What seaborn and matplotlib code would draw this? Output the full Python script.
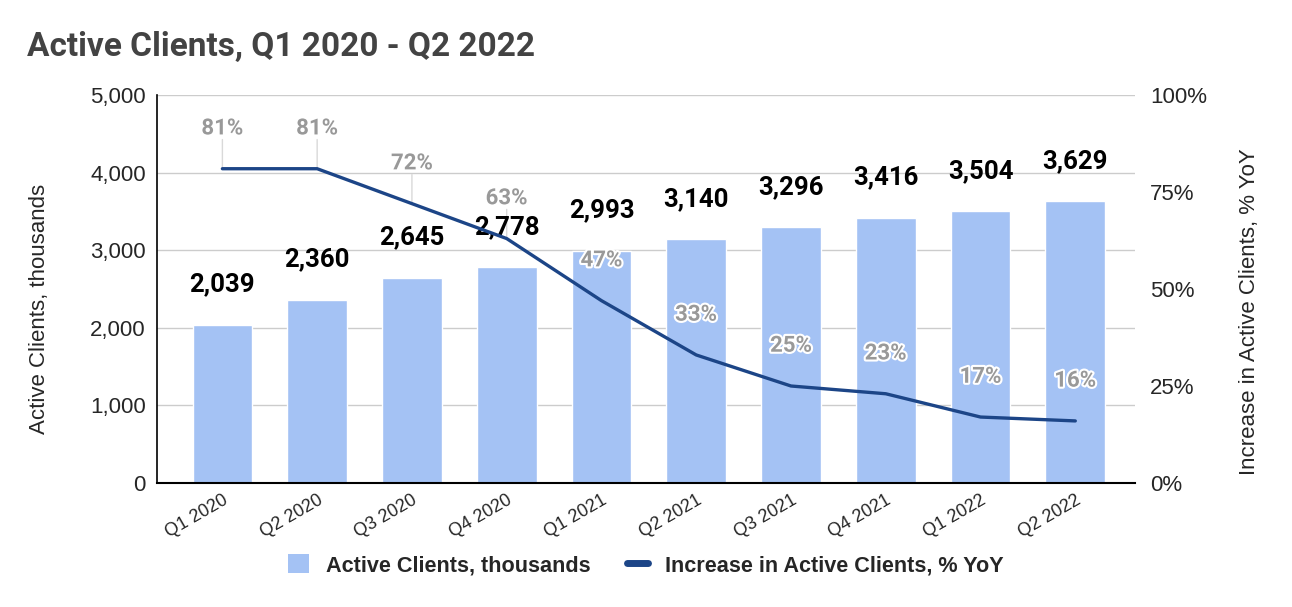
import numpy as np
import pandas as pd
import matplotlib
matplotlib.use("Agg")
import matplotlib.pyplot as plt
import matplotlib.patheffects as pe
from matplotlib.patches import Patch
from matplotlib.lines import Line2D
import seaborn as sns

# datos
quarters = ["Q1 2020", "Q2 2020", "Q3 2020", "Q4 2020", "Q1 2021",
            "Q2 2021", "Q3 2021", "Q4 2021", "Q1 2022", "Q2 2022"]
clients = [2039, 2360, 2645, 2778, 2993, 3140, 3296, 3416, 3504, 3629]
yoy = [81, 81, 72, 63, 47, 33, 25, 23, 17, 16]

df = pd.DataFrame({"quarter": quarters, "clients": clients, "yoy": yoy})

sns.set_theme(style="white")
plt.rcParams["font.family"] = ["Liberation Sans", "DejaVu Sans"]

BAR = "#a4c2f4"
LINE = "#1c4587"

fig, ax = plt.subplots(figsize=(12.92, 6.07), dpi=100)
fig.subplots_adjust(left=157/1292, right=1135/1292, top=1-95/607, bottom=1-483/607)

sns.barplot(data=df, x="quarter", y="clients", color=BAR, saturation=1,
            width=0.63, ax=ax, zorder=2)
ax.set_ylim(0, 5000)
ax.set_xlim(-0.69, 9.63)
ax.set_yticks(range(0, 5001, 1000))
ax.set_yticklabels([f"{v:,}" for v in range(0, 5001, 1000)], fontsize=16)
ax.yaxis.grid(True, color="#cccccc", lw=1, zorder=0)
ax.set_axisbelow(True)
ax.set_xlabel("")
ax.set_ylabel("")
ax.tick_params(axis="y", length=0, pad=8)
ax.tick_params(axis="x", length=0, pad=6)
for s in ["top", "right"]:
    ax.spines[s].set_visible(False)
ax.spines["left"].set_color("black")
ax.spines["left"].set_linewidth(1.2)
ax.spines["bottom"].set_color("black")
ax.spines["bottom"].set_linewidth(1.5)

# etiquetas del eje x rotadas
ax.set_xticks(range(len(quarters)))
ax.set_xticklabels(quarters, rotation=30, ha="right", rotation_mode="anchor", fontsize=13)

# valores de barras
for i, v in enumerate(clients):
    ax.annotate(f"{v:,}", (i, v), xytext=(0, 29), textcoords="offset points",
                ha="center", va="center", fontsize=18.5, fontweight="bold",
                family=["Roboto", "DejaVu Sans"], color="black", zorder=5)

# eje secundario
ax2 = ax.twinx()
sns.lineplot(x=np.arange(len(yoy)), y=df["yoy"], color=LINE, lw=2.4, ax=ax2)
ax2.set_ylim(0, 100)
ax2.set_yticks([0, 25, 50, 75, 100])
ax2.set_yticklabels([f"{v}%" for v in [0, 25, 50, 75, 100]], fontsize=16)
ax2.tick_params(axis="y", length=0, pad=11)
ax2.set_ylabel("")
for s in ax2.spines.values():
    s.set_visible(False)

for i, v in enumerate(yoy):
    # linea guia detras de las barras
    ax.annotate("", xy=(i, v), xycoords=ax2.transData, xytext=(0, 21),
                textcoords="offset points", zorder=1,
                arrowprops=dict(arrowstyle="-", color="#d9d9d9", lw=1,
                                shrinkA=0, shrinkB=0))
    ax2.annotate(f"{v}%", (i, v), xytext=(0, 29), textcoords="offset points",
                 ha="center", va="center", fontsize=16, fontweight="bold",
                 family=["Roboto", "DejaVu Sans"], color="#999999",
                 path_effects=[pe.withStroke(linewidth=3, foreground="white")])

# titulos
fig.text(27/1292, 1-47/607, "Active Clients, Q1 2020 - Q2 2022", fontsize=24,
         fontweight="bold", color="#434343", va="center", ha="left",
         family=["Roboto", "DejaVu Sans"])
fig.text(40/1292, 1-309/607, "Active Clients, thousands", rotation=90,
         fontsize=16, va="center", ha="center")
fig.text(1250/1292, 1-312/607, "Increase in Active Clients, % YoY", rotation=90,
         fontsize=16, va="center", ha="center")

handles = [Patch(facecolor=BAR, edgecolor="none"),
           Line2D([0], [0], color=LINE, lw=5)]
fig.legend(handles, ["Active Clients, thousands", "Increase in Active Clients, % YoY"],
           loc="center", bbox_to_anchor=(646/1292, 1-565/607), ncol=2, frameon=False,
           prop=dict(weight="bold", size=15.6), handlelength=0.95, handleheight=1.0,
           columnspacing=1.7, handletextpad=0.8)

fig.savefig("out.png", dpi=100)
